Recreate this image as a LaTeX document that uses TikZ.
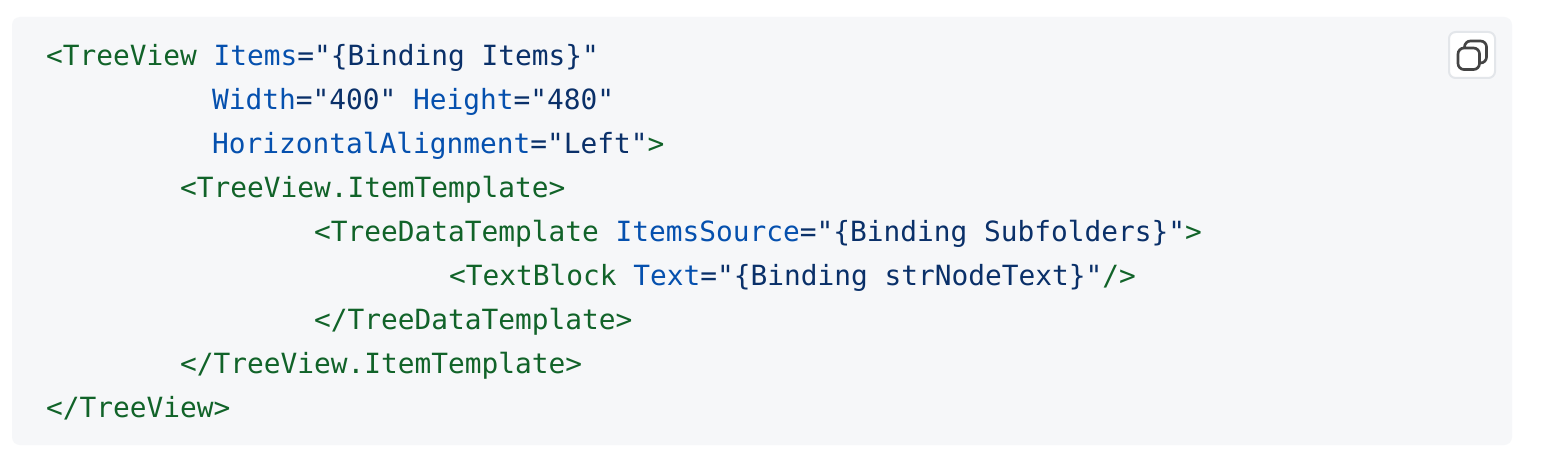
\documentclass[tikz,border=0pt]{standalone}
\usepackage{fontspec}
\setmonofont{DejaVu Sans Mono}
\usepackage{xcolor}
\definecolor{panelbg}{HTML}{F6F7F9}
\definecolor{btnborder}{HTML}{E3E6EA}
\definecolor{iconcol}{HTML}{444444}
\definecolor{tagcol}{HTML}{116329}
\definecolor{attrcol}{HTML}{0550AE}
\definecolor{strcol}{HTML}{0A3069}
\newcommand{\codetag}[1]{\textcolor{tagcol}{#1}}
\newcommand{\codeattr}[1]{\textcolor{attrcol}{#1}}
\tikzset{
  codeline/.style={
    anchor=base west, inner sep=0pt, outer sep=0pt,
    font=\ttfamily\fontsize{20.87}{25}\selectfont, text=strcol
  },
  iconsq/.style={draw=iconcol, line width=2pt, rounded corners=4.5pt}
}

\begin{document}
\begin{tikzpicture}[x=0.75pt,y=-0.75pt]
		\useasboundingbox (0,0) rectangle (1541,467);
		\fill[white] (0,0) rectangle (1541,467);
		\fill[panelbg, rounded corners=6pt] (12,17) rectangle (1512,445);
		%
		\node[codeline] (l1) at (46,65) {\codetag{<TreeView} \codeattr{Items}="\{Binding Items\}"};
		\node[codeline] (l2) at (212,109) {\codeattr{Width}="400" \codeattr{Height}="480"};
		\node[codeline] (l3) at (212,153) {\codeattr{HorizontalAlignment}="Left"\codetag{>}};
		\node[codeline] (l4) at (180,197) {\codetag{<TreeView.ItemTemplate>}};
		\node[codeline] (l5) at (314,241) {\codetag{<TreeDataTemplate} \codeattr{ItemsSource}="\{Binding Subfolders\}"\codetag{>}};
		\node[codeline] (l6) at (449,285) {\codetag{<TextBlock} \codeattr{Text}="\{Binding strNodeText\}"\codetag{/>}};
		\node[codeline] (l7) at (314,329) {\codetag{</TreeDataTemplate>}};
		\node[codeline] (l8) at (180,373) {\codetag{</TreeView.ItemTemplate>}};
		\node[codeline] (l9) at (46,417) {\codetag{</TreeView>}};
		%
		\draw[btnborder, fill=white, line width=1.5pt, rounded corners=5pt] (1449,32) rectangle (1495,78);
		\draw[iconsq] (1464.5,41) rectangle (1486.5,63);
		\draw[iconsq, fill=white] (1458,48) rectangle (1479.5,69.5);
	\end{tikzpicture}
\end{document}
